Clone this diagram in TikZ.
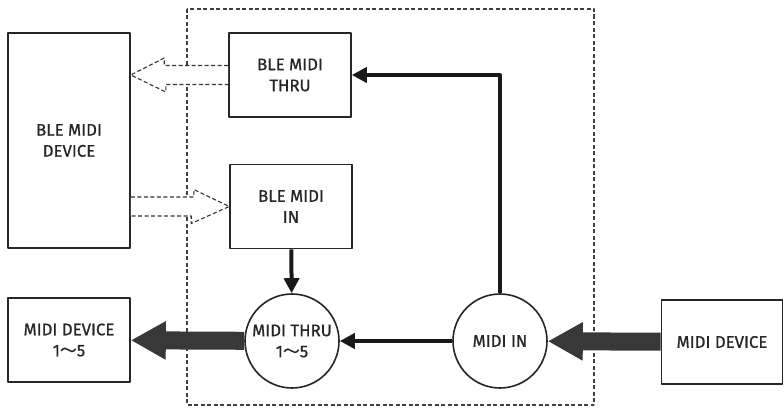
\documentclass[tikz,border=0pt]{standalone}
\usepackage{fontspec}
\setmainfont{Fira Sans}[FakeBold=0.8]
\newfontfamily\cjk{Noto Sans CJK JP}[FakeBold=0.8]
\usetikzlibrary{arrows.meta}
\newcommand{\wave}{{\cjk ～}}
\begin{document}
\begin{tikzpicture}[x=1pt, y=-1pt, line join = round,
    box/.style = {draw, line width=1.6pt, black!85, align=center, font=\fontsize{16.8}{21}\selectfont, text=black!85},
    port/.style = {draw, circle, line width=1.6pt, black!85, minimum size=94pt, inner sep=0pt, align=center, font=\fontsize{16.8}{21}\selectfont, text=black!85},
    flow/.style = {line width=4pt, black!90, -{Triangle[length=15pt, width=15pt]}},
    fat/.style = {line width=18pt, black!78, -{Triangle[length=35pt, width=36pt]}},
    hollow/.style = {dashed, dash pattern=on 4pt off 2.5pt, line width=1.1pt, black!80, fill=white}]
\useasboundingbox (0,0) rectangle (784,409);

\node [box, minimum width=122pt, minimum height=215pt] (bledev)  at (69,140.5) {BLE MIDI\\DEVICE};
\node [box, minimum width=122pt, minimum height=84pt]  (blethru) at (290,75)    {BLE MIDI\\THRU};
\node [box, minimum width=122pt, minimum height=84pt]  (blein)   at (291,206.5) {BLE MIDI\\IN};
\node [box, minimum width=122pt, minimum height=84pt]  (devout)  at (69,340)    {MIDI DEVICE\\1\wave5};
\node [box, minimum width=121pt, minimum height=84pt]  (devin)   at (722,342)   {MIDI DEVICE};
\node [port] (midithru) at (292,341) {MIDI THRU\\1\wave5};
\node [port] (midiin)   at (500,341) {MIDI IN};

\draw [dashed, dash pattern=on 4pt off 2.5pt, line width=1.1pt, black!75] (187,9) rectangle (594,405);

\coordinate (bin) at (bledev.east |- blein.west);
\coordinate (bout) at (bledev.east |- blethru.west);

\draw [hollow] ([yshift=9.5pt]blethru.west) -- ++(-64,0) -- ++(0,-7.5) -- (bout)
    -- ++(35,17) -- ++(0,-7.5) -- ([yshift=-9.5pt]blethru.west);
\draw [hollow] ([yshift=9.5pt]bin) -- ++(63,0) -- ++(0,-7.5) -- (blein.west)
    -- ++(-38,17) -- ++(0,-7.5) -- ([yshift=-9.5pt]bin);

\draw [flow] (midiin.north) |- (blethru.east);
\draw [flow] (midiin) -- (midithru);
\draw [flow] (blein) -- (midithru);

\draw [fat] (devin) -- (midiin);
\draw [fat] (midithru) -- (devout);

\end{tikzpicture}
\end{document}
